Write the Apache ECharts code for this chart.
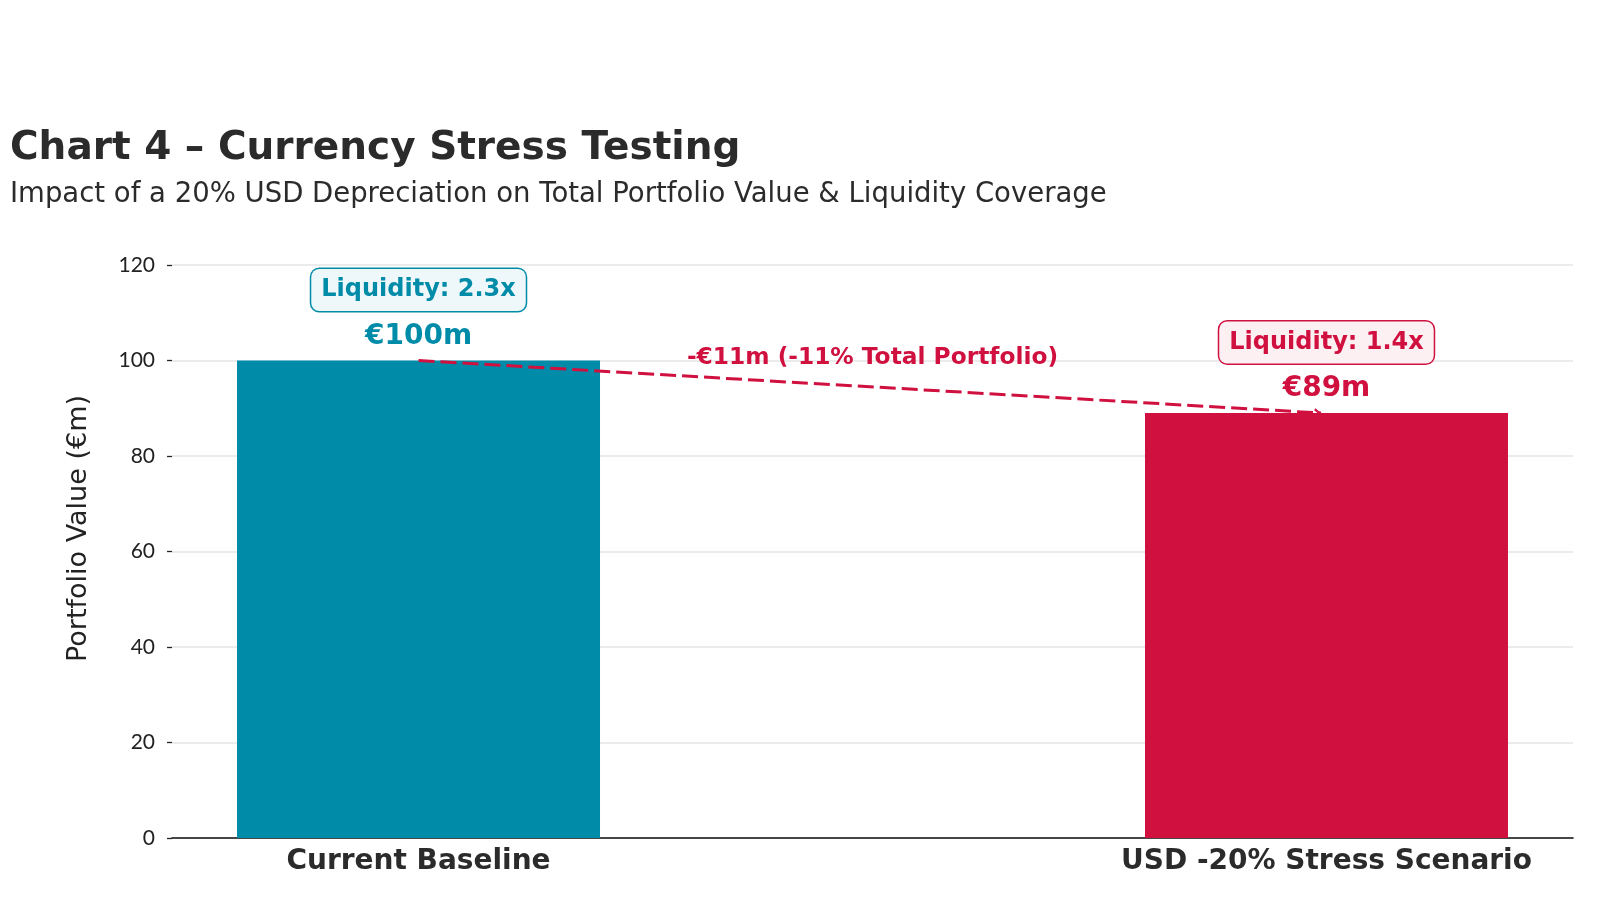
<html>
<head>
    <script src="https://cdn.jsdelivr.net/npm/echarts@6.0.0/dist/echarts.min.js"></script>
    <style>
        body { margin: 0 }
        #chart { width: 1600px; height: 904px; }
    </style>
</head>
<body>
    <div id="chart"></div>
    <script>
        // data
        const categories = ['Current Baseline', 'USD -20% Stress Scenario'];
        const values = [100, 89];
        const liquidity = ['2.3x', '1.4x'];
        const barColors = ['#008BA8', '#D0103F'];
        const boxFills = ['#EEF8FA', '#FDF0F3'];
        const changeText = '-€11m (-11% Total Portfolio)';
        const changeAt = [0.5, 100.5];
        const arrowEnd = 0.994;

        const myChart = echarts.init(document.getElementById('chart'));
        const font = 'DejaVu Sans';

        const barData = values.map((v, i) => ({
            value: [i, v],
            itemStyle: { color: barColors[i] },
            label: {
                show: true,
                position: 'top',
                distance: 9,
                formatter: `{box|Liquidity: ${liquidity[i]}}\n{gap| }\n{val|€${v}m}`,
                rich: {
                    box: {
                        fontFamily: font, fontWeight: 'bold', fontSize: 24, lineHeight: 27,
                        color: barColors[i], backgroundColor: boxFills[i],
                        borderColor: barColors[i], borderWidth: 1.5, borderRadius: 8,
                        padding: [9, 10, 9, 10], align: 'center'
                    },
                    gap: { fontSize: 2, height: 18, lineHeight: 18 },
                    val: {
                        fontFamily: font, fontWeight: 'bold', fontSize: 28,
                        color: barColors[i], align: 'center', lineHeight: 30
                    }
                }
            }
        }));

        const option = {
            animation: false,
            textStyle: { fontFamily: font },
            title: {
                text: 'Chart 4 – Currency Stress Testing',
                subtext: 'Impact of a 20% USD Depreciation on Total Portfolio Value & Liquidity Coverage',
                left: 5, top: 122, itemGap: 8,
                textStyle: { fontFamily: font, fontWeight: 'bold', fontSize: 39, lineHeight: 44, color: '#2b2b2b' },
                subtextStyle: { fontFamily: font, fontSize: 27.5, lineHeight: 32, color: '#2b2b2b' }
            },
            grid: { left: 172, right: 27, top: 265, bottom: 66 },
            xAxis: {
                type: 'value',
                min: -0.2715, max: 1.2715,
                splitLine: { show: false },
                axisLine: { show: true, onZero: false, lineStyle: { color: '#111', width: 1.6 } },
                axisTick: { show: false },
                axisLabel: {
                    customValues: [0, 1],
                    formatter: v => categories[Math.round(v)] || '',
                    fontFamily: font, fontWeight: 'bold', fontSize: 28, color: '#2b2b2b', margin: 10
                }
            },
            yAxis: {
                type: 'value',
                min: 0, max: 120, interval: 20,
                name: 'Portfolio Value (€m)',
                nameLocation: 'middle', nameGap: 80,
                nameTextStyle: { fontFamily: font, fontSize: 27, color: '#222', padding: [0, 0, 0, 46] },
                axisLine: { show: false, onZero: false },
                axisTick: { show: true, length: 5, lineStyle: { color: '#222', width: 1.3 } },
                axisLabel: { fontFamily: 'Lato', fontSize: 21, color: '#222', margin: 17 },
                splitLine: { lineStyle: { color: '#ebebeb', width: 1.8 } }
            },
            series: [
                {
                    type: 'bar',
                    barWidth: 363,
                    data: barData,
                    markLine: {
                        silent: true,
                        symbol: ['none', 'path://M5,0 L10,9 L8.4,10 L5,4 L1.6,10 L0,9 Z'],
                        symbolSize: [13, 10],
                        symbolOffset: [0, 2],
                        label: { show: false },
                        lineStyle: { color: barColors[1], type: [16, 6], width: 3, opacity: 1 },
                        itemStyle: { color: barColors[1] },
                        data: [[{ coord: [0, values[0]] }, { coord: [arrowEnd, values[1]] }]]
                    }
                },
                {
                    type: 'scatter',
                    symbolSize: 0,
                    itemStyle: { opacity: 1 },
                    data: [changeAt],
                    label: {
                        show: true, position: 'inside', formatter: changeText,
                        fontFamily: font, fontWeight: 'bold', fontSize: 23.3, color: barColors[1]
                    }
                }
            ]
        };
        myChart.setOption(option);
    </script>
</body>
</html>
